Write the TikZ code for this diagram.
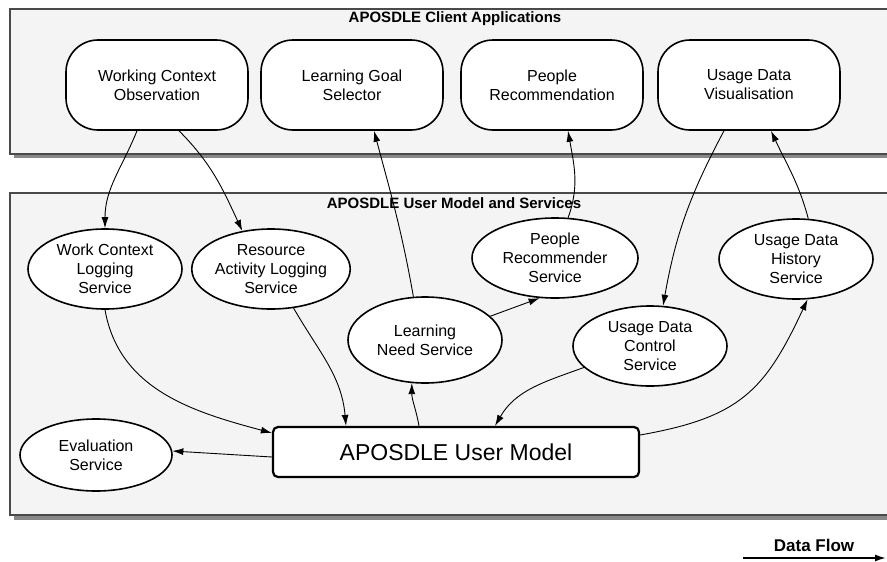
\documentclass[tikz,border=0pt]{standalone}
\usepackage{fontspec}
\setmainfont{Liberation Sans}
\usepackage{tikz}
\usepackage{xcolor}
\usetikzlibrary{arrows.meta, shapes.geometric, positioning}
\definecolor{PanelFill}{HTML}{F4F4F4}
\definecolor{PanelEdge}{HTML}{4A4A4A}
\definecolor{PanelShadow}{HTML}{888888}

\begin{document}
\begin{tikzpicture}[x=1pt, y=-1pt, on grid, >={Latex[length=11pt, width=7pt]},
    app/.style={rectangle, rounded corners=32pt, draw, line width=1.6pt, fill=white, minimum width=182pt, minimum height=90pt, align=center, font=\fontsize{16}{19}\selectfont},
    service/.style={ellipse, draw, line width=1.6pt, fill=white, inner sep=0pt, minimum width=154pt, minimum height=80pt, align=center, font=\fontsize{16}{19}\selectfont},
    paneltitle/.style={font=\fontsize{15}{18}\selectfont\bfseries},
    flow/.style={->, line width=0.9pt}]

    \useasboundingbox (0,0) rectangle (887,562);

    % panels
    \fill[PanelShadow] (14,13) rectangle (887,158);
    \fill[PanelFill] (10,9) rectangle (887,154);
    \draw[PanelEdge, line width=1.4pt] (887,9) -- (10,9) -- (10,154) -- (887,154);

    \fill[PanelShadow] (14,197) rectangle (887,520);
    \fill[PanelFill] (10,193) rectangle (887,515);
    \draw[PanelEdge, line width=1.4pt] (887,193) -- (10,193) -- (10,515) -- (887,515);

    \node[paneltitle] (clienttitle) at (455,19) {APOSDLE Client Applications};
    \node[paneltitle] (umtitle) at (454,203) {APOSDLE User Model and Services};

    % client applications
    \node[app] (wco) at (157,85) {Working Context\\Observation};
    \node[app, right=195pt of wco] (lgs) {Learning Goal\\Selector};
    \node[app, right=200pt of lgs] (prc) {People\\Recommendation};
    \node[app, right=197pt of prc] (udv) {Usage Data\\Visualisation};

    % services
    \node[service] (wcl) at (105,269) {Work Context\\Logging\\Service};
    \node[service, minimum width=148pt] (ral) at (271,269) {Resource\\Activity Logging\\Service};
    \node[service, minimum height=86pt] (ln) at (425,340) {Learning\\Need Service};
    \node[service, minimum width=166pt] (prs) at (555,258) {People\\Recommender\\Service};
    \node[service] (udc) at (650,346) {Usage Data\\Control\\Service};
    \node[service] (udh) at (796,259) {Usage Data\\History\\Service};
    \node[service, minimum width=152pt, minimum height=72pt] (ev) at (96,455) {Evaluation\\Service};

    \node[rectangle, rounded corners=5pt, draw, line width=2.2pt, fill=white, minimum width=366pt, minimum height=50pt, font=\fontsize{23}{27}\selectfont] (um) at (456,452) {APOSDLE User Model};

    % legend
    \node[font=\fontsize{17}{20}\selectfont\bfseries] (dflabel) at (814,545) {Data Flow};
    \coordinate (dfstart) at (743,558);
    \coordinate (dfend) at (886,558);

    \path[flow]
    ([xshift=-20pt]wco.south) edge[out=-112, in=90] (wcl.north)
    ([xshift=22pt]wco.south) edge[out=-45, in=115] (ral.127)
    (ln.105) edge[out=100, in=-75] ([xshift=22pt]lgs.south)
    (prs.72) edge[out=70, in=-80] ([xshift=16pt]prc.south)
    ([xshift=-25pt]udv.south) edge[out=-118, in=80] (udc.72)
    (udh.73) edge[out=105, in=-65] ([xshift=22pt]udv.south)
    (ln.20) edge (prs.249)
    (wcl.south) edge[out=-80, in=165] ([yshift=19pt]um.west)
    (ral.300) edge[out=-60, in=95] ([xshift=-110pt]um.north)
    ([xshift=-37pt]um.north) edge[out=100, in=-90] (ln.253)
    (udc.198) edge[out=-160, in=60] ([xshift=39pt]um.north)
    ([yshift=17pt]um.east) edge[out=10, in=-115, looseness=1.2] (udh.286)
    ([yshift=-5pt]um.west) edge (ev.3)
    (dfstart) edge[line width=1.6pt] (dfend);

\end{tikzpicture}
\end{document}
